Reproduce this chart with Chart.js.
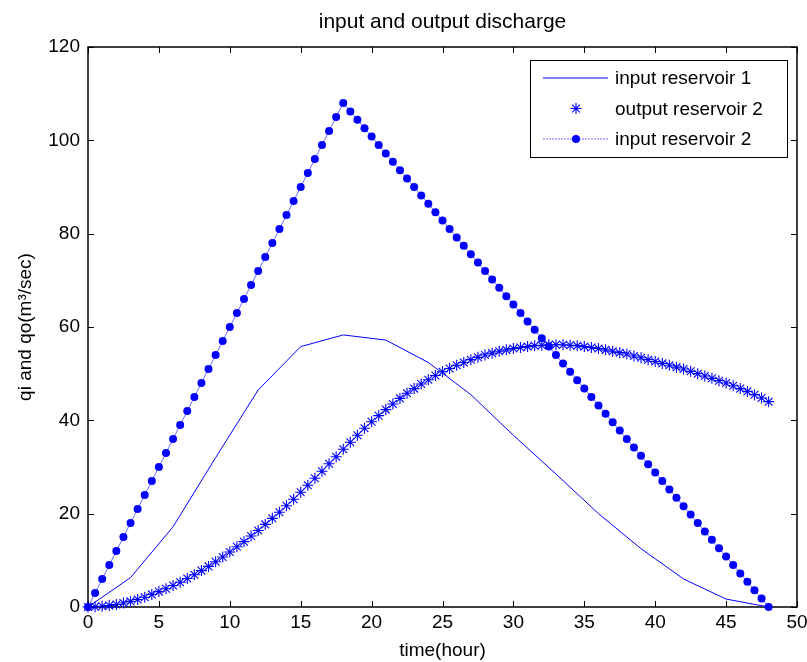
<!DOCTYPE html>
<html>
<head>
<meta charset="utf-8">
<script src="https://cdn.jsdelivr.net/npm/chart.js@4.4.1/dist/chart.umd.min.js"></script>
<style>
  html, body { margin: 0; padding: 0; background: #fff; }
  #wrap { width: 807px; height: 662px; }
</style>
</head>
<body>
<div id="wrap"><canvas id="dischargeChart" width="807" height="662"></canvas></div>
<script>
// time grids (hours)
const hoursCoarse = [0, 3, 6, 9, 12, 15, 18, 21, 24, 27, 30, 33, 36, 39, 42, 45, 48];
const hoursFine = [
  0, 0.5, 1, 1.5, 2, 2.5, 3, 3.5, 4, 4.5, 5, 5.5, 6, 6.5, 7, 7.5, 8, 8.5, 9, 9.5,
  10, 10.5, 11, 11.5, 12, 12.5, 13, 13.5, 14, 14.5, 15, 15.5, 16, 16.5, 17, 17.5, 18, 18.5, 19, 19.5,
  20, 20.5, 21, 21.5, 22, 22.5, 23, 23.5, 24, 24.5, 25, 25.5, 26, 26.5, 27, 27.5, 28, 28.5, 29, 29.5,
  30, 30.5, 31, 31.5, 32, 32.5, 33, 33.5, 34, 34.5, 35, 35.5, 36, 36.5, 37, 37.5, 38, 38.5, 39, 39.5,
  40, 40.5, 41, 41.5, 42, 42.5, 43, 43.5, 44, 44.5, 45, 45.5, 46, 46.5, 47, 47.5, 48
];

// discharge values (m3/sec)
const inputRes1 = [0, 6.3, 17.2, 32, 46.5, 55.8, 58.3, 57.2, 52.4, 45.5, 36.8, 28.5, 20, 12.5, 6, 1.7, 0];

const outputRes2 = [
  0, 0.05, 0.15, 0.3, 0.55, 0.85, 1.2, 1.6, 2.1, 2.7, 3.3, 3.9, 4.6, 5.3, 6.1, 6.9, 7.8, 8.7, 9.7, 10.7,
  11.8, 12.9, 14.0, 15.2, 16.4, 17.7, 19.0, 20.3, 21.7, 23.1, 24.6, 26.1, 27.6, 29.1, 30.7, 32.2, 33.8, 35.3, 36.8, 38.3,
  39.7, 41.0, 42.3, 43.5, 44.7, 45.8, 46.8, 47.8, 48.7, 49.6, 50.4, 51.1, 51.8, 52.4, 53.0, 53.5, 54.0, 54.4, 54.8, 55.1,
  55.4, 55.6, 55.8, 56.0, 56.1, 56.2, 56.2, 56.2, 56.1, 56.0, 55.8, 55.6, 55.4, 55.1, 54.8, 54.5, 54.2, 53.8, 53.4, 53.0,
  52.6, 52.2, 51.8, 51.4, 51.0, 50.5, 50.0, 49.5, 49.0, 48.5, 48.0, 47.4, 46.8, 46.2, 45.5, 44.8, 44.0
];

const inputRes2 = [
  0, 3, 6, 9, 12, 15, 18, 21, 24, 27, 30, 33, 36, 39, 42, 45, 48, 51, 54, 57,
  60, 63, 66, 69, 72, 75, 78, 81, 84, 87, 90, 93, 96, 99, 102, 105, 108, 106.2, 104.4, 102.6,
  100.8, 99, 97.2, 95.4, 93.6, 91.8, 90, 88.2, 86.4, 84.6, 82.8, 81, 79.2, 77.4, 75.6, 73.8, 72, 70.2, 68.4, 66.6,
  64.8, 63, 61.2, 59.4, 57.6, 55.8, 54, 52.2, 50.4, 48.6, 46.8, 45, 43.2, 41.4, 39.6, 37.8, 36, 34.2, 32.4, 30.6,
  28.8, 27, 25.2, 23.4, 21.6, 19.8, 18, 16.2, 14.4, 12.6, 10.8, 9, 7.2, 5.4, 3.6, 1.8, 0
];

const xTicks = [0, 5, 10, 15, 20, 25, 30, 35, 40, 45, 50];
const yTicks = [0, 20, 40, 60, 80, 100, 120];

const FONT = 'Liberation Sans, Arial, Helvetica, sans-serif';
const BLUE = 'rgb(0,0,255)';

function pairs(xs, ys) {
  return xs.map((x, i) => ({ x: x, y: ys[i] }));
}

// matlab style box with inward ticks on all four sides
const axesBox = {
  id: 'axesBox',
  beforeDatasetsDraw(chart) {
    const { ctx, chartArea: a, scales } = chart;
    const tl = 6;
    ctx.save();
    ctx.strokeStyle = '#000';
    ctx.lineWidth = 1;
    ctx.beginPath();
    xTicks.forEach(v => {
      const px = Math.round(scales.x.getPixelForValue(v)) + 0.5;
      ctx.moveTo(px, a.bottom); ctx.lineTo(px, a.bottom - tl);
      ctx.moveTo(px, a.top); ctx.lineTo(px, a.top + tl);
    });
    yTicks.forEach(v => {
      const py = Math.round(scales.y.getPixelForValue(v)) + 0.5;
      ctx.moveTo(a.left, py); ctx.lineTo(a.left + tl, py);
      ctx.moveTo(a.right, py); ctx.lineTo(a.right - tl, py);
    });
    ctx.stroke();
    ctx.lineWidth = 1.5;
    ctx.strokeRect(Math.round(a.left), Math.round(a.top), Math.round(a.right - a.left), Math.round(a.bottom - a.top));
    ctx.restore();
  },
  afterDraw(chart) {
    const { ctx, chartArea: a } = chart;
    const w = 257, h = 97;
    const left = a.right - 10 - w, top = a.top + 13;
    ctx.save();
    ctx.fillStyle = '#fff';
    ctx.fillRect(left, top, w, h);
    ctx.strokeStyle = '#000';
    ctx.lineWidth = 1;
    ctx.strokeRect(left + 0.5, top + 0.5, w, h);
    ctx.font = '19px ' + FONT;
    ctx.textBaseline = 'middle';
    chart.data.datasets.forEach((ds, i) => {
      const cy = top + 18 + i * 30.5;
      if (ds.showLine) {
        ctx.strokeStyle = ds.borderColor;
        ctx.lineWidth = ds.borderWidth;
        ctx.setLineDash(ds.legendDash || []);
        ctx.beginPath();
        ctx.moveTo(left + 13, cy);
        ctx.lineTo(left + 78, cy);
        ctx.stroke();
        ctx.setLineDash([]);
      }
      if (ds.pointRadius > 0) {
        ctx.strokeStyle = ds.pointBorderColor;
        ctx.fillStyle = ds.pointBackgroundColor;
        ctx.lineWidth = ds.pointBorderWidth;
        Chart.helpers.drawPoint(ctx, {
          pointStyle: ds.pointStyle, radius: ds.pointRadius, rotation: 0, borderWidth: ds.pointBorderWidth
        }, left + 46, cy);
      }
      ctx.fillStyle = '#000';
      ctx.fillText(ds.label, left + 85, cy + 1);
    });
    ctx.restore();
  }
};

new Chart(document.getElementById('dischargeChart'), {
  type: 'scatter',
  data: {
    datasets: [
      {
        label: 'input reservoir 1',
        data: pairs(hoursCoarse, inputRes1),
        showLine: true,
        borderColor: BLUE,
        borderWidth: 1,
        pointRadius: 0,
        order: 3,
        clip: false
      },
      {
        label: 'output reservoir 2',
        data: pairs(hoursFine, outputRes2),
        showLine: false,
        pointStyle: 'star',
        pointRadius: 5.5,
        pointBorderWidth: 1.1,
        pointBorderColor: BLUE,
        pointBackgroundColor: BLUE,
        borderColor: BLUE,
        order: 2,
        clip: false
      },
      {
        label: 'input reservoir 2',
        data: pairs(hoursFine, inputRes2),
        showLine: true,
        borderColor: 'rgba(60,60,255,0.75)',
        borderWidth: 1,
        legendDash: [2, 1],
        pointStyle: 'circle',
        pointRadius: 4,
        pointBorderWidth: 0,
        pointBorderColor: BLUE,
        pointBackgroundColor: BLUE,
        order: 1,
        clip: false
      }
    ]
  },
  options: {
    responsive: false,
    animation: false,
    layout: { padding: { top: 0, left: 0, right: 10, bottom: 0 } },
    plugins: {
      legend: { display: false },
      tooltip: { enabled: false },
      title: {
        display: true,
        fullSize: false,
        text: 'input and output discharge',
        color: '#000',
        font: { family: FONT, size: 21, weight: 'normal' },
        padding: { top: 10, bottom: 11.8 }
      }
    },
    scales: {
      x: {
        type: 'linear',
        min: 0,
        max: 50,
        afterFit: s => { s.height = 55; s.paddingLeft = 0; s.paddingRight = 0; },
        afterBuildTicks: s => { s.ticks = xTicks.map(v => ({ value: v })); },
        grid: { display: false, drawTicks: false },
        border: { display: false },
        ticks: { color: '#000', font: { family: FONT, size: 19 }, padding: 4, maxRotation: 0, autoSkip: false },
        title: {
          display: true,
          text: 'time(hour)',
          color: '#000',
          font: { family: FONT, size: 19 },
          padding: { top: 0, bottom: 0 }
        }
      },
      y: {
        min: 0,
        max: 120,
        afterFit: s => { s.width = 88; },
        afterBuildTicks: s => { s.ticks = yTicks.map(v => ({ value: v })); },
        grid: { display: false, drawTicks: false },
        border: { display: false },
        ticks: { color: '#000', font: { family: FONT, size: 19 }, padding: 8 },
        title: {
          display: true,
          text: 'qi and qo(m\u00b3/sec)',
          color: '#000',
          font: { family: FONT, size: 19 },
          padding: { top: 14, bottom: 0 }
        }
      }
    }
  },
  plugins: [axesBox]
});
</script>
</body>
</html>
